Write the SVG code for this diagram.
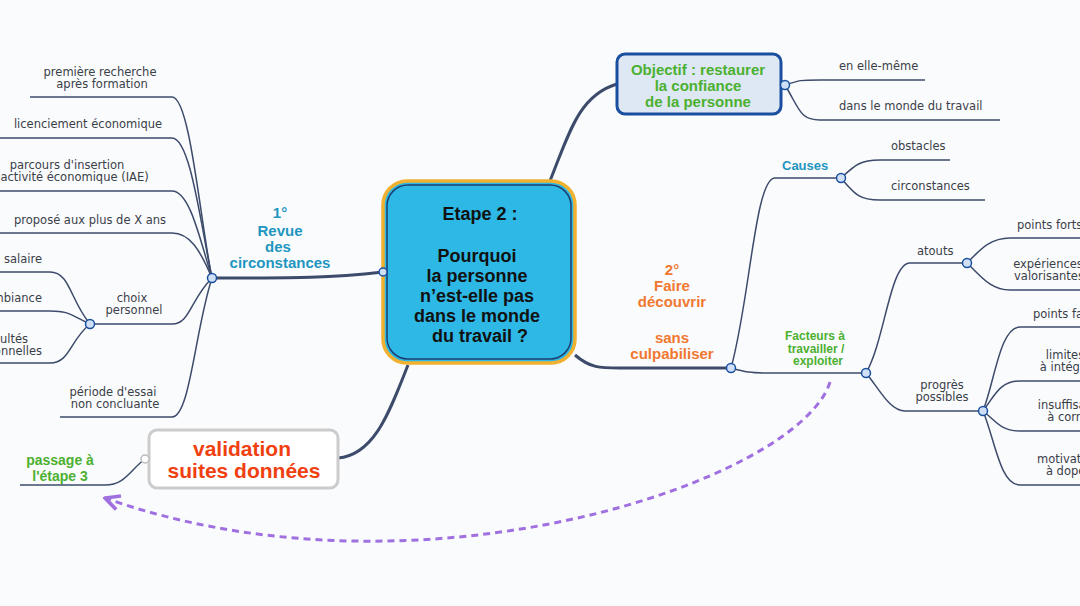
<svg xmlns="http://www.w3.org/2000/svg" width="1080" height="606" viewBox="0 0 1080 606">
<defs>
<style>
text{font-family:"DejaVu Sans","Verdana",sans-serif;}
.b{font-family:"Liberation Sans","Arial",sans-serif;}
.t{font-size:11.5px;fill:#3a4048;}
.c{fill:none;stroke:#3d4b6b;stroke-width:1.5;}
.h{fill:#cfe0f5;stroke:#1a4fa0;stroke-width:1.5;}
</style>
<marker id="ar" viewBox="0 0 10 10" refX="9" refY="5" markerWidth="6" markerHeight="6" orient="auto"><path d="M1,1 L9,5 L1,9" fill="none" stroke="#a070e0" stroke-width="2"/></marker>
</defs>
<rect width="1080" height="606" fill="#fafbfd"/>
<g id="connectors">
<path d="M383,272 C330,278 300,278 212,278" style="fill:none;stroke:#3d4b6b;stroke-width:3"/>
<path class="c" d="M212,278 C200,220 190,97 172,97 L30,97"/>
<path class="c" d="M212,278 C200,220 190,138 172,138 L0,138"/>
<path class="c" d="M212,278 C200,240 190,191 172,191 L0,191"/>
<path class="c" d="M212,278 C200,250 190,233 172,233 L0,233"/>
<path class="c" d="M212,278 C190,300 190,324 172,324 L90,324"/>
<path class="c" d="M212,278 C195,330 190,417 172,417 L60,417"/>
<path class="c" d="M90,324 C70,300 70,272 50,272 L0,272"/>
<path class="c" d="M90,324 C70,315 70,311 50,311 L0,311"/>
<path class="c" d="M90,324 C70,340 70,363 50,363 L0,363"/>
<path d="M550,181 C570,130 580,95 617,84" style="fill:none;stroke:#3d4b6b;stroke-width:3"/>
<path class="c" d="M785,85 C800,80 800,80 820,80 L925,80"/>
<path class="c" d="M785,85 C800,110 800,120 820,120 L1000,120"/>
<path d="M575,355 C590,368 600,368 620,368 L731,368" style="fill:none;stroke:#3d4b6b;stroke-width:3"/>
<path class="c" d="M731,368 C750,300 755,178 775,178 L841,178"/>
<path class="c" d="M841,178 C855,165 860,160 880,160 L950,160"/>
<path class="c" d="M841,178 C855,195 860,200 880,200 L985,200"/>
<path class="c" d="M731,368 C745,372 750,373 770,373 L866,373"/>
<path class="c" d="M866,373 C885,340 890,263 910,263 L967,263"/>
<path class="c" d="M967,263 C980,250 990,238 1010,238 L1080,238"/>
<path class="c" d="M967,263 C980,275 990,290 1010,290 L1080,290"/>
<path class="c" d="M866,373 C880,390 890,411 905,411 L983,411"/>
<path class="c" d="M983,411 C995,380 1000,327 1020,327 L1080,327"/>
<path class="c" d="M983,411 C995,395 1000,381 1020,381 L1080,381"/>
<path class="c" d="M983,411 C995,420 1000,431 1020,431 L1080,431"/>
<path class="c" d="M983,411 C995,440 1000,485 1020,485 L1080,485"/>
<path d="M408,365 C390,410 375,455 338,458" style="fill:none;stroke:#3d4b6b;stroke-width:3"/>
<path class="c" d="M145,459 C130,470 125,485 105,485 L20,485"/>
<path d="M830,382 C800,480 420,610 105,498" fill="none" stroke="#a070e0" stroke-width="3" stroke-dasharray="7,5" marker-end="url(#ar)"/>
</g>
<g id="center">
<rect x="383" y="181" width="192" height="182" rx="24" fill="#2db8e6" stroke="#f0b030" stroke-width="3.5"/>
<rect x="387" y="185" width="184" height="174" rx="21" fill="none" stroke="#1d3f70" stroke-width="1.5"/>
<text class="b" font-size="18" font-weight="bold" fill="#111" text-anchor="middle"><tspan x="480" y="220">Etape 2 :</tspan><tspan x="477" y="262">Pourquoi</tspan><tspan x="477" y="282">la personne</tspan><tspan x="477" y="302">n’est-elle pas</tspan><tspan x="477" y="322">dans le monde</tspan><tspan x="480" y="342">du travail ?</tspan></text>
</g>
<g id="revue">
<circle class="h" cx="212" cy="278" r="4.5"/>
<circle class="h" cx="383" cy="272" r="4"/>
<text class="b" font-size="15" font-weight="bold" fill="#1e96c0" text-anchor="middle"><tspan x="280" y="218">1°</tspan><tspan x="280" y="236">Revue</tspan><tspan x="278" y="252">des</tspan><tspan x="280" y="268">circonstances</tspan></text>
<text class="t" text-anchor="middle"><tspan x="100" y="76">première recherche</tspan><tspan x="102" y="88">après formation</tspan></text>
<text class="t" text-anchor="middle" x="88" y="128">licenciement économique</text>
<text class="t" text-anchor="middle"><tspan x="67" y="169">parcours d'insertion</tspan><tspan x="60" y="181">par l'activité économique (IAE)</tspan></text>
<text class="t" text-anchor="end" x="166" y="224">proposé aux plus de X ans</text>
<text class="t" text-anchor="middle"><tspan x="132" y="302">choix</tspan><tspan x="134" y="314">personnel</tspan></text>
<text class="t" text-anchor="middle"><tspan x="113" y="396">période d'essai</tspan><tspan x="115" y="408">non concluante</tspan></text>
<circle class="h" cx="90" cy="324" r="4.5"/>
<text class="t" text-anchor="end" x="42" y="263">salaire</text>
<text class="t" text-anchor="end" x="42" y="302">ambiance</text>
<text class="t" text-anchor="end"><tspan x="28" y="343">difficultés</tspan><tspan x="42" y="355">relationnelles</tspan></text>
</g>
<g id="objectif">
<rect x="617" y="54" width="164" height="60" rx="8" fill="#dde8f4" stroke="#1a4fa0" stroke-width="3"/>
<text class="b" font-size="15" font-weight="bold" fill="#4cb030" text-anchor="middle"><tspan x="698" y="75">Objectif : restaurer</tspan><tspan x="698" y="91">la confiance</tspan><tspan x="698" y="107">de la personne</tspan></text>
<circle class="h" cx="785" cy="85" r="4.5"/>
<text class="t" x="839" y="70">en elle-même</text>
<text class="t" x="839" y="110">dans le monde du travail</text>
</g>
<g id="decouvrir">
<text class="b" font-size="15" font-weight="bold" fill="#f07830" text-anchor="middle"><tspan x="672" y="275">2°</tspan><tspan x="672" y="291">Faire</tspan><tspan x="672" y="307">découvrir</tspan><tspan x="672" y="343">sans</tspan><tspan x="672" y="359">culpabiliser</tspan></text>
<circle class="h" cx="731" cy="368" r="4.5"/>
<text class="b" font-size="13" font-weight="bold" fill="#1e96c0" x="782" y="170">Causes</text>
<circle class="h" cx="841" cy="178" r="4.5"/>
<text class="t" x="891" y="150">obstacles</text>
<text class="t" x="891" y="190">circonstances</text>
<text class="b" font-size="12" font-weight="bold" fill="#4cb030" text-anchor="middle"><tspan x="815" y="340">Facteurs à</tspan><tspan x="816" y="352.5">travailler /</tspan><tspan x="818" y="365">exploiter</tspan></text>
<circle class="h" cx="866" cy="373" r="4.5"/>
<text class="t" x="917" y="255">atouts</text>
<circle class="h" cx="967" cy="263" r="4.5"/>
<text class="t" x="1017" y="229">points forts</text>
<text class="t" text-anchor="middle"><tspan x="1048" y="268">expériences</tspan><tspan x="1049" y="280">valorisantes</tspan></text>
<text class="t" text-anchor="middle"><tspan x="942" y="389">progrès</tspan><tspan x="942" y="401">possibles</tspan></text>
<circle class="h" cx="983" cy="411" r="4.5"/>
<text class="t" x="1033" y="318">points faibles</text>
<text class="t" text-anchor="middle"><tspan x="1065" y="359">limites</tspan><tspan x="1068" y="371">à intégrer</tspan></text>
<text class="t" text-anchor="middle"><tspan x="1075" y="409">insuffisances</tspan><tspan x="1075" y="421">à corriger</tspan></text>
<text class="t" text-anchor="middle"><tspan x="1068" y="463">motivation</tspan><tspan x="1068" y="475">à doper</tspan></text>
</g>
<g id="validation">
<rect x="149" y="430" width="189" height="58" rx="8" fill="#fff" stroke="#cccccc" stroke-width="3"/>
<text class="b" font-size="21" font-weight="bold" fill="#f04010" text-anchor="middle"><tspan x="242" y="456">validation</tspan><tspan x="244" y="478">suites données</tspan></text>
<circle cx="145" cy="459" r="4" fill="#fff" stroke="#bbb" stroke-width="1.5"/>
<text class="b" font-size="14" font-weight="bold" fill="#4cb030" text-anchor="middle"><tspan x="60" y="465">passage à</tspan><tspan x="60" y="481">l'étape 3</tspan></text>
</g>
</svg>
